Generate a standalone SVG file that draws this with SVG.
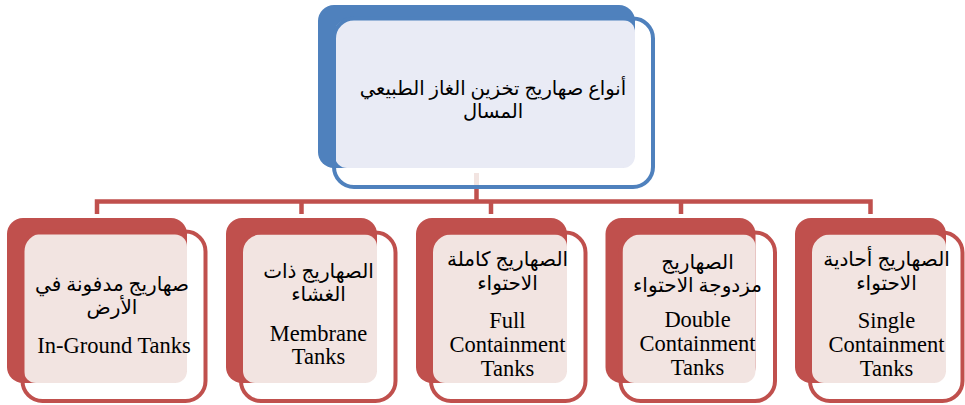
<svg xmlns="http://www.w3.org/2000/svg" width="965" height="405" viewBox="0 0 965 405">
<style>
.nb{fill:#C0504D}
.nf{fill:#F2E4E1}
.no{fill:none;stroke:#C0504D;stroke-width:4}
.ar{font-family:"Liberation Serif","DejaVu Sans",serif;font-size:20px;text-anchor:middle;fill:#000}
.en{font-family:"Liberation Serif","Times New Roman",serif;font-size:22.5px;text-anchor:middle;fill:#000}
.cn{stroke:#C0504D;stroke-width:4.5;fill:none}
</style>
<rect width="965" height="405" fill="#fff"/>
<g id="connectors">
<rect x="474" y="173" width="5" height="12" fill="#F2E4E1"/>
<line class="cn" x1="476.5" y1="188" x2="476.5" y2="201.5"/>
<polyline class="cn" points="97,214 97,201.5 870.5,201.5 870.5,214"/>
<line class="cn" x1="301.5" y1="201.5" x2="301.5" y2="214"/>
<line class="cn" x1="491" y1="201.5" x2="491" y2="214"/>
<line class="cn" x1="681" y1="201.5" x2="681" y2="214"/>
</g>
<g id="root">
<rect x="318" y="5" width="317" height="163" rx="16" fill="#4F81BD"/>
<rect x="335" y="20" width="300" height="148" rx="12" fill="#E9EBF5"/>
<rect x="334" y="18.5" width="319" height="168.5" rx="20" fill="none" stroke="#4F81BD" stroke-width="4"/>
<text class="ar" x="493" y="95" style="font-size:19.5px">أنواع صهاريج تخزين الغاز الطبيعي</text>
<text class="ar" x="493" y="118" style="font-size:19.5px">المسال</text>
</g>
<g id="in-ground">
<rect class="nb" x="7" y="218" width="180" height="165" rx="16"/>
<rect class="nf" x="24" y="234.5" width="163" height="148.5" rx="12"/>
<rect class="no" x="22.5" y="231.5" width="183" height="169.5" rx="20"/>
<text class="ar" x="112" y="291">صهاريج مدفونة في</text>
<text class="ar" x="112" y="314">الأرض</text>
<text class="en" x="114" y="352.5">In-Ground Tanks</text>
</g>
<g id="membrane">
<rect class="nb" x="226" y="218" width="151" height="165" rx="16"/>
<rect class="nf" x="243" y="234.5" width="134" height="148.5" rx="12"/>
<rect class="no" x="241" y="232.5" width="154.5" height="168.5" rx="20"/>
<text class="ar" x="318.5" y="278">الصهاريج ذات</text>
<text class="ar" x="318.5" y="301">الغشاء</text>
<text class="en" x="318.5" y="340.5">Membrane</text>
<text class="en" x="318.5" y="364">Tanks</text>
</g>
<g id="full">
<rect class="nb" x="416" y="218" width="151" height="165" rx="16"/>
<rect class="nf" x="433" y="234.5" width="134" height="148.5" rx="12"/>
<rect class="no" x="431" y="232.5" width="154.5" height="168.5" rx="20"/>
<text class="ar" x="507.5" y="266">الصهاريج كاملة</text>
<text class="ar" x="507.5" y="290">الاحتواء</text>
<text class="en" x="507.5" y="328">Full</text>
<text class="en" x="507.5" y="352">Containment</text>
<text class="en" x="507.5" y="376">Tanks</text>
</g>
<g id="double">
<rect class="nb" x="605.5" y="218" width="150" height="165" rx="16"/>
<rect class="nf" x="622.5" y="234.5" width="133" height="148.5" rx="12"/>
<rect class="no" x="620.5" y="232.5" width="154.5" height="168.5" rx="20"/>
<text class="ar" x="697.5" y="269">الصهاريج</text>
<text class="ar" x="697.5" y="292">مزدوجة الاحتواء</text>
<text class="en" x="697.5" y="327">Double</text>
<text class="en" x="697.5" y="350.5">Containment</text>
<text class="en" x="697.5" y="374.5">Tanks</text>
</g>
<g id="single">
<rect class="nb" x="795" y="218" width="151" height="165" rx="16"/>
<rect class="nf" x="812" y="234.5" width="134" height="148.5" rx="12"/>
<rect class="no" x="810" y="232.5" width="152.5" height="168.5" rx="20"/>
<text class="ar" x="886.5" y="266">الصهاريج أحادية</text>
<text class="ar" x="886.5" y="290">الاحتواء</text>
<text class="en" x="886.5" y="328">Single</text>
<text class="en" x="886.5" y="352">Containment</text>
<text class="en" x="886.5" y="376">Tanks</text>
</g>
</svg>
